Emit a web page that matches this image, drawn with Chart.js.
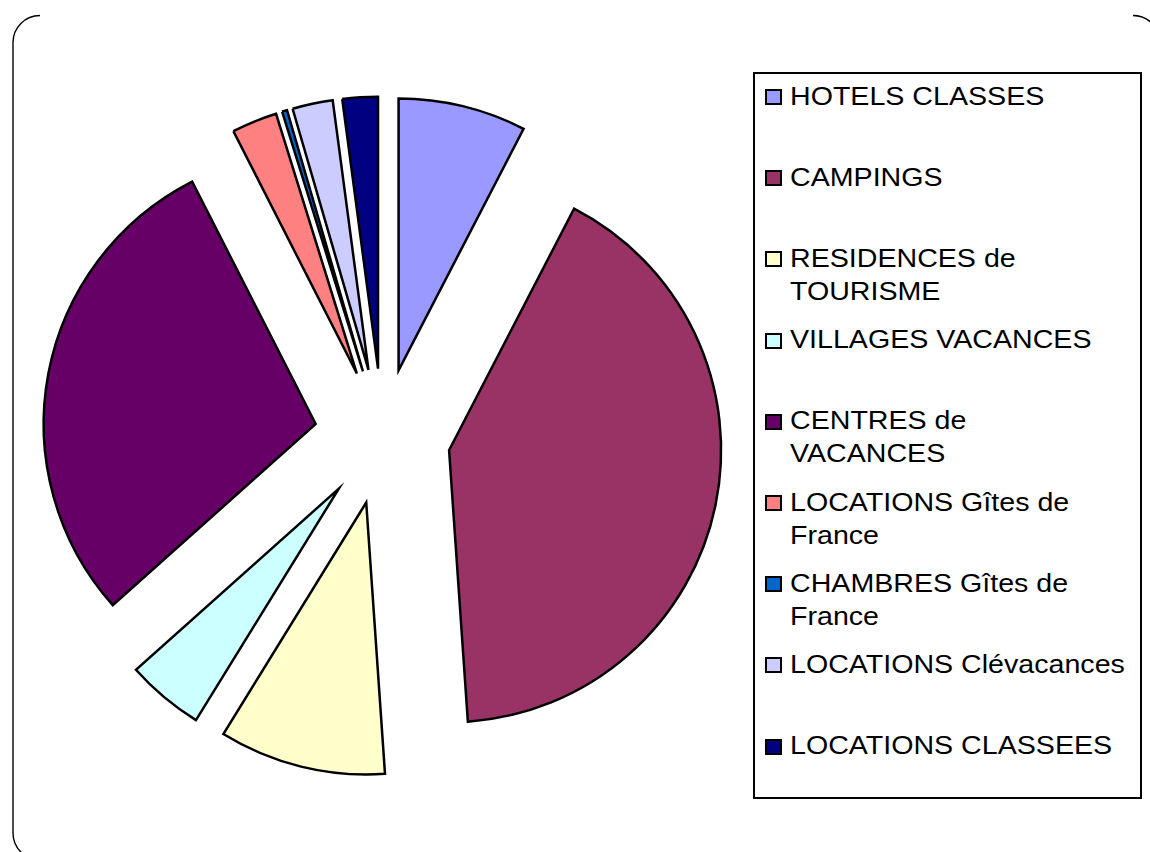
<!DOCTYPE html>
<html>
<head>
<meta charset="utf-8">
<script src="https://cdn.jsdelivr.net/npm/chart.js@4.4.1/dist/chart.umd.min.js"></script>
<style>
  html, body { margin: 0; padding: 0; background: #fff; }
  #wrap { position: relative; width: 1150px; height: 852px; overflow: hidden; }
  #c { position: absolute; left: 0; top: 0; }
  #legend { position: absolute; left: 753px; top: 72px; width: 389px; height: 727px;
            border: 2px solid #000; box-sizing: border-box; background: #fff; }
  .mk { position: absolute; width: 17px; height: 16px; border: 2px solid #000; box-sizing: border-box; }
  .tx { position: absolute; font-family: "Liberation Sans", Arial, sans-serif; font-size: 26px;
        line-height: 33px; color: #000; white-space: nowrap;
        transform: scaleX(1.1); transform-origin: left top; }
</style>
</head>
<body>
<div id="wrap">
  <canvas id="c" width="1150" height="852"></canvas>
  <div id="legend"></div>
</div>
<script>
// ---- data ----
const categories = [
  'HOTELS CLASSES',
  'CAMPINGS',
  ['RESIDENCES de', 'TOURISME'],
  'VILLAGES VACANCES',
  ['CENTRES de', 'VACANCES'],
  ['LOCATIONS Gîtes de', 'France'],
  ['CHAMBRES Gîtes de', 'France'],
  'LOCATIONS Clévacances',
  'LOCATIONS CLASSEES'
];
const shares = [7.6, 41.3, 9.9, 4.6, 29.1, 2.7, 0.3, 2.4, 2.1];
const colors = ['#9999FF', '#993366', '#FFFFCC', '#CCFFFF', '#660066', '#FF8080', '#0066CC', '#CCCCFF', '#000080'];

const EXPLODE = 68;

// draw every slice pulled out along its bisector (Excel-style exploded pie)
const explodePlugin = {
  id: 'explode',
  beforeDatasetDraw(chart, args) {
    const ctx = chart.ctx;
    args.meta.data.forEach(arc => {
      const a = (arc.startAngle + arc.endAngle) / 2;
      ctx.save();
      ctx.translate(Math.cos(a) * EXPLODE, Math.sin(a) * EXPLODE);
      arc.draw(ctx, chart.chartArea);
      ctx.restore();
    });
    return false;
  }
};

// partial rounded frame of the chart area
const framePlugin = {
  id: 'frame',
  beforeDraw(chart) {
    const ctx = chart.ctx;
    ctx.save();
    ctx.strokeStyle = '#000';
    ctx.lineWidth = 1.4;
    ctx.beginPath();
    ctx.arc(40, 42.5, 27, -Math.PI / 2, Math.PI, true);
    ctx.lineTo(13, 833);
    ctx.arc(40, 833, 27, Math.PI, Math.PI / 2, true);
    ctx.stroke();
    ctx.beginPath();
    ctx.arc(1133, 42.5, 27, -Math.PI / 2, 0, false);
    ctx.stroke();
    ctx.restore();
  }
};

new Chart(document.getElementById('c'), {
  type: 'pie',
  data: {
    labels: categories,
    datasets: [{
      data: shares,
      backgroundColor: colors,
      borderColor: '#000',
      borderWidth: 2.5,
      borderJoinStyle: 'miter'
    }]
  },
  options: {
    responsive: false,
    animation: false,
    radius: 272,
    layout: { padding: { left: 0, right: 385, top: 21, bottom: 0 } },
    plugins: { legend: { display: false }, tooltip: { enabled: false } }
  },
  plugins: [framePlugin, explodePlugin]
});

// ---- legend (HTML text) ----
const legend = document.getElementById('legend');
const boxLeft = 753, boxTop = 72, bw = 2;
categories.forEach((lab, i) => {
  const baseline = 105 + 81.2 * i;
  const mk = document.createElement('div');
  mk.className = 'mk';
  mk.style.background = colors[i];
  mk.style.left = (765 - boxLeft - bw) + 'px';
  mk.style.top = (baseline - 16 - boxTop - bw) + 'px';
  legend.appendChild(mk);
  const tx = document.createElement('div');
  tx.className = 'tx';
  const lines = Array.isArray(lab) ? lab : [lab];
  lines.forEach((l, k) => {
    if (k) tx.appendChild(document.createElement('br'));
    tx.appendChild(document.createTextNode(l));
  });
  tx.style.left = (790 - boxLeft - bw) + 'px';
  tx.style.top = (baseline - 25.5 - boxTop - bw) + 'px';
  legend.appendChild(tx);
});
</script>
</body>
</html>
